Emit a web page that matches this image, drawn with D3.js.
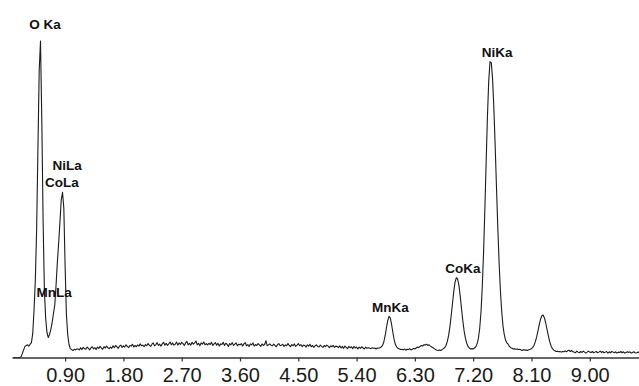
<!DOCTYPE html>
<html>
<head>
<meta charset="utf-8">
<script src="https://cdn.jsdelivr.net/npm/d3@7"></script>
<style>
  body { margin: 0; background: #fff; }
  svg { display: block; }
</style>
</head>
<body>
<div id="chart"></div>
<script>
// EDS spectrum: one count value per 0.02 keV channel, first channel at 0.10 keV
var startKeV = 0.10, stepKeV = 0.02;
var counts = [
  0, 0, 0, 0, 0, 0, 2, 13, 24, 35, 38, 40, 36, 42, 47, 76, 149, 244, 402, 655, 908, 1000, 750, 434, 212,
  123, 79, 63, 73, 89, 111, 139, 165, 228, 300, 361, 427, 497, 522, 472, 288, 136, 73, 41, 28, 25, 22, 26, 24, 27,
  27, 24, 31, 25, 32, 28, 26, 33, 29, 24, 31, 34, 27, 31, 25, 33, 29, 35, 30, 26, 34, 30, 36, 31, 28,
  33, 29, 37, 31, 38, 34, 29, 36, 39, 32, 37, 33, 40, 35, 31, 38, 36, 42, 33, 38, 34, 40, 36, 43, 37,
  39, 34, 41, 37, 44, 39, 35, 42, 46, 37, 40, 47, 38, 42, 36, 43, 48, 39, 45, 38, 43, 49, 40, 46, 39,
  42, 49, 39, 46, 41, 48, 44, 38, 46, 51, 40, 45, 39, 48, 42, 46, 52, 40, 45, 37, 46, 42, 49, 40, 44,
  40, 45, 41, 48, 38, 43, 47, 39, 45, 36, 43, 41, 48, 38, 45, 42, 35, 44, 40, 47, 38, 42, 46, 37, 42,
  40, 44, 36, 43, 47, 37, 41, 35, 43, 40, 46, 36, 41, 38, 44, 40, 35, 43, 38, 41, 53, 37, 40, 43, 38,
  37, 42, 38, 34, 41, 44, 37, 39, 42, 35, 40, 37, 44, 38, 34, 41, 37, 43, 35, 39, 44, 37, 41, 34, 39,
  38, 33, 40, 36, 42, 34, 38, 32, 37, 40, 35, 33, 39, 35, 32, 38, 34, 39, 36, 31, 37, 34, 38, 32, 36,
  35, 31, 37, 30, 35, 29, 36, 32, 28, 35, 31, 34, 28, 35, 30, 33, 27, 33, 29, 34, 30, 27, 33, 29, 31,
  30, 28, 31, 29, 30, 27, 30, 29, 31, 33, 38, 49, 68, 93, 116, 130, 125, 105, 79, 56, 41, 33, 29, 27, 25,
  26, 24, 27, 23, 26, 25, 28, 24, 26, 29, 27, 30, 33, 31, 35, 38, 36, 41, 39, 42, 38, 40, 36, 33, 31,
  28, 25, 23, 22, 24, 22, 25, 28, 31, 38, 50, 69, 96, 131, 170, 208, 238, 252, 248, 227, 194, 154, 116, 84, 61,
  45, 35, 30, 27, 28, 27, 30, 34, 43, 60, 91, 142, 221, 329, 466, 616, 761, 874, 935, 931, 878, 784, 665, 536, 411,
  301, 212, 147, 100, 72, 55, 46, 42, 35, 31, 29, 27, 28, 26, 27, 25, 26, 24, 22, 25, 23, 24, 22, 25, 26,
  28, 32, 39, 50, 65, 84, 104, 121, 132, 134, 125, 109, 89, 69, 51, 38, 29, 24, 21, 19, 20, 18, 19, 17, 19,
  18, 21, 18, 22, 23, 19, 22, 18, 17, 15, 20, 17, 15, 19, 16, 20, 17, 14, 17, 20, 17, 16, 19, 15, 17,
  19, 15, 17, 20, 16, 19, 15, 17, 19, 14, 18, 15, 19, 17, 15, 18, 14, 17, 16, 19, 15, 18, 14, 16, 18,
  16, 18, 14, 16, 18, 15, 14, 17, 16
];

var tickValues = [0.90, 1.80, 2.70, 3.60, 4.50, 5.40, 6.30, 7.20, 8.10, 9.00];

// peak annotations (label centre in keV, label baseline in counts)
var peakNames = ["O Ka", "NiLa", "CoLa", "MnLa", "MnKa", "CoKa", "NiKa"];
var peakKeV = [0.59, 0.93, 0.85, 0.73, 5.92, 7.04, 7.57];
var peakLabelCounts = [1038, 592, 538, 190, 144, 267, 949];

var width = 639, height = 386;

var svg = d3.select("#chart").append("svg")
  .attr("width", width).attr("height", height);

var x = d3.scaleLinear().domain([0.08, 9.76]).range([12, 639]);
var y = d3.scaleLinear().domain([0, 1000]).range([357.5, 41]);

// spectrum trace
var line = d3.line()
  .x(function (d, i) { return x(startKeV + i * stepKeV); })
  .y(function (d) { return y(d); });

svg.append("path")
  .datum(counts)
  .attr("fill", "none")
  .attr("stroke", "#1c1c1c")
  .attr("stroke-width", 1.1)
  .attr("stroke-linejoin", "round")
  .attr("d", line);

// energy axis
var axis = d3.axisBottom(x)
  .tickValues(tickValues)
  .tickFormat(d3.format(".2f"))
  .tickSizeInner(4)
  .tickSizeOuter(0)
  .tickPadding(6.5);

var gx = svg.append("g")
  .attr("transform", "translate(0," + y(0) + ")")
  .call(axis);

gx.select(".domain").attr("stroke", "#333").attr("stroke-width", 1.3);
gx.selectAll(".tick line").attr("stroke", "#333").attr("stroke-width", 1.2);
gx.selectAll(".tick text")
  .attr("fill", "#1a1a1a")
  .style("font-family", "Arial, 'Liberation Sans', sans-serif")
  .style("font-size", "20px");

// peak labels
svg.append("g").selectAll("text")
  .data(peakNames)
  .enter().append("text")
  .attr("x", function (d, i) { return x(peakKeV[i]); })
  .attr("y", function (d, i) { return y(peakLabelCounts[i]); })
  .attr("text-anchor", "middle")
  .style("font-family", "Arial, 'Liberation Sans', sans-serif")
  .style("font-size", "13.5px")
  .style("font-weight", "bold")
  .attr("fill", "#111")
  .text(function (d) { return d; });
</script>
</body>
</html>
